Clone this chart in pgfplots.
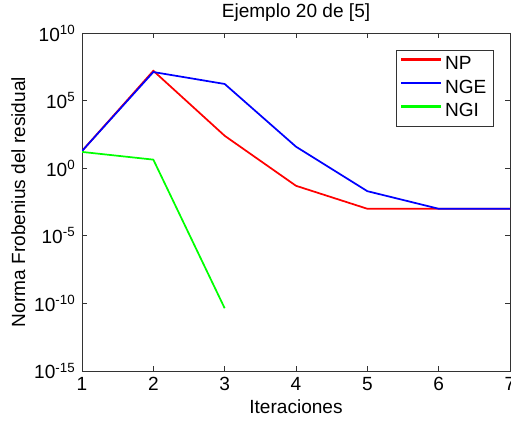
\documentclass[border=0pt]{standalone}
\usepackage{fontspec}
\setmainfont{Liberation Sans}
\usepackage{pgfplots}
\pgfplotsset{compat=1.18}

\begin{document}
\begin{tikzpicture}
\fontsize{14.3}{17}\selectfont
\begin{axis}[
    name=ax,
    width=321pt, height=253.5pt,
    scale only axis,
    ymode=log,
    xmin=1, xmax=7, ymin=1e-15, ymax=1e10,
    xtick={1,2,3,4,5,6,7},
    ytick={1e-15,1e-10,1e-5,1,1e5,1e10},
    yticklabels={10\textsuperscript{-15},10\textsuperscript{-10},10\textsuperscript{-5},10\textsuperscript{0},10\textsuperscript{5},10\textsuperscript{10}},
    minor ytick={},
    log basis y=10,
    tick align=inside,
    major tick length=4pt,
    tick style={black!80, line width=0.5pt},
    axis line style={black!80, line width=0.6pt},
    ticklabel style={font=\fontsize{14.3}{17}\selectfont},
    /pgf/number format/assume math mode=true,
    title={Ejemplo 20 de [5]},
    title style={font=\fontsize{14.3}{17}\selectfont, yshift=-2pt},
    xlabel={Iteraciones},
    ylabel={Norma Frobenius del residual},
    label style={font=\fontsize{14.3}{17}\selectfont},
    xlabel style={yshift=3pt},
    ylabel style={yshift=-3pt},
    legend style={at={(1,1)}, anchor=north east, xshift=-12.5pt, yshift=-12.5pt,
      draw=black!80, font=\fontsize{14.3}{17}\selectfont, inner sep=3pt,
      row sep=1.5pt},
    legend cell align=left,
    legend image code/.code={\draw[line width=1.6pt]
      (0pt,0.5ex) -- (30pt,0.5ex);},
]
\addplot[red, line width=1.3pt] coordinates {
  (1,18.7) (2,1.6e7) (3,250) (4,0.05) (5,1e-3) (6,1e-3) (7,1e-3)};
\addplot[blue, line width=1.3pt] coordinates {
  (1,18.7) (2,1.3e7) (3,1.7e6) (4,39) (5,0.02) (6,1e-3) (7,1e-3)};
\addplot[green, line width=1.3pt] coordinates {
  (1,16) (2,4.3) (3,4.4e-11)};
\legend{NP, NGE, NGI}
\end{axis}
\pgfresetboundingbox
\path ([shift={(-61.5pt,-36.75pt)}]ax.south west) rectangle ([shift={(0.75pt,24.75pt)}]ax.north east);
\end{tikzpicture}
\end{document}
